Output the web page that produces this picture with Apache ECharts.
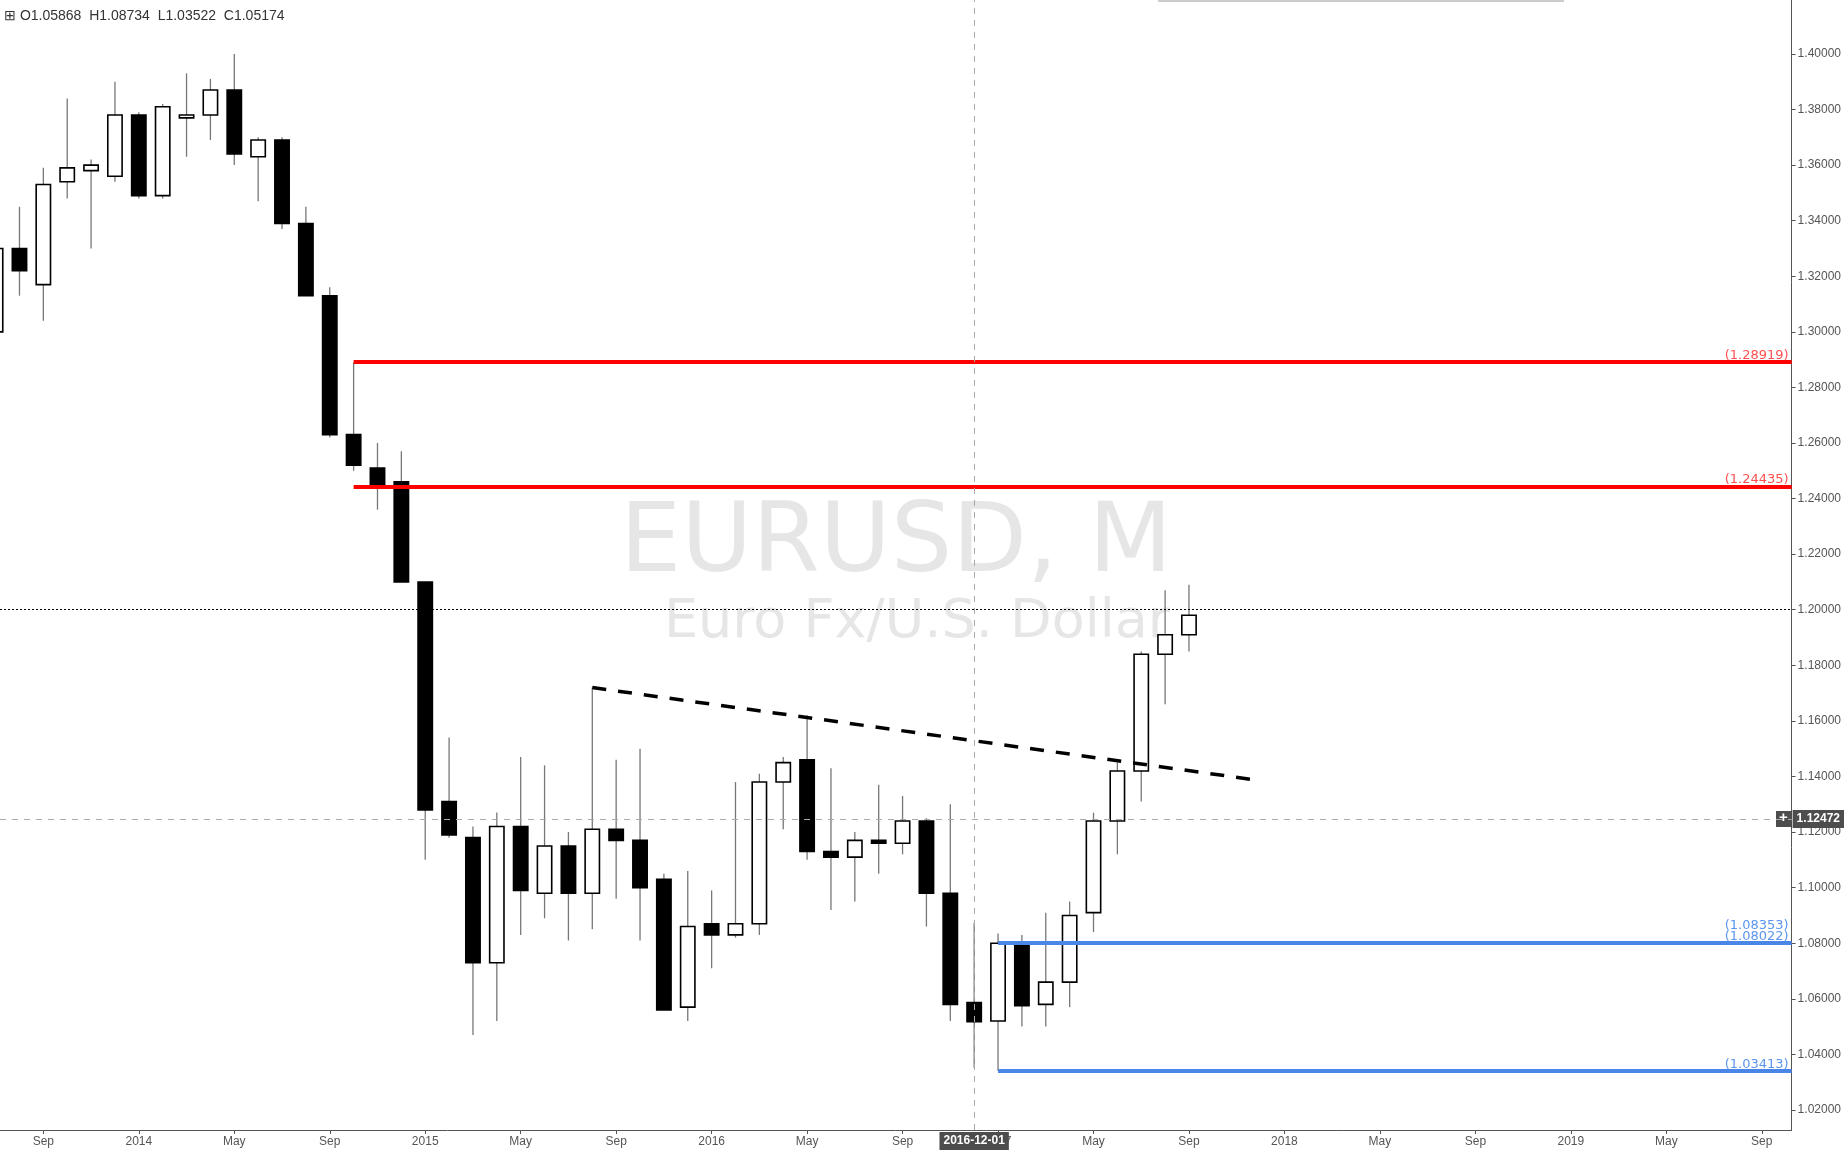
<!DOCTYPE html>
<html><head><meta charset="utf-8">
<script src="https://cdn.jsdelivr.net/npm/echarts@6/dist/echarts.min.js"></script>
<style>html,body{margin:0;padding:0;background:#fff}#c{width:1844px;height:1150px}</style>
</head><body><div id="c"></div>
<script>
const months = ['Jul 2013','Aug 2013','Sep 2013','Oct 2013','Nov 2013','Dec 2013','Jan 2014','Feb 2014','Mar 2014','Apr 2014','May 2014','Jun 2014','Jul 2014','Aug 2014','Sep 2014','Oct 2014','Nov 2014','Dec 2014','Jan 2015','Feb 2015','Mar 2015','Apr 2015','May 2015','Jun 2015','Jul 2015','Aug 2015','Sep 2015','Oct 2015','Nov 2015','Dec 2015','Jan 2016','Feb 2016','Mar 2016','Apr 2016','May 2016','Jun 2016','Jul 2016','Aug 2016','Sep 2016','Oct 2016','Nov 2016','Dec 2016','Jan 2017','Feb 2017','Mar 2017','Apr 2017','May 2017','Jun 2017','Jul 2017','Aug 2017','Sep 2017'];
const opens  = [1.300,1.330,1.317,1.354,1.358,1.356,1.378,1.349,1.377,1.378,1.387,1.363,1.369,1.339,1.313,1.263,1.251,1.246,1.210,1.131,1.118,1.073,1.122,1.098,1.115,1.098,1.121,1.117,1.103,1.057,1.087,1.083,1.087,1.138,1.146,1.113,1.111,1.117,1.116,1.124,1.098,1.05868,1.052,1.080,1.058,1.066,1.091,1.124,1.142,1.184,1.191];
const highs  = [1.335,1.345,1.359,1.384,1.362,1.390,1.379,1.382,1.393,1.391,1.400,1.370,1.370,1.345,1.316,1.289,1.260,1.257,1.210,1.154,1.122,1.127,1.147,1.144,1.120,1.172,1.146,1.150,1.105,1.106,1.099,1.138,1.141,1.147,1.162,1.143,1.120,1.137,1.133,1.125,1.130,1.08734,1.08353,1.083,1.091,1.095,1.127,1.145,1.185,1.207,1.209];
const lows   = [1.298,1.313,1.304,1.348,1.330,1.354,1.348,1.348,1.363,1.369,1.360,1.347,1.337,1.313,1.262,1.250,1.236,1.210,1.110,1.118,1.047,1.052,1.083,1.089,1.081,1.085,1.096,1.081,1.056,1.052,1.071,1.082,1.083,1.121,1.110,1.092,1.095,1.105,1.112,1.086,1.052,1.03522,1.03413,1.050,1.050,1.057,1.084,1.112,1.131,1.166,1.185];
const closes = [1.330,1.322,1.353,1.359,1.360,1.378,1.349,1.381,1.378,1.387,1.364,1.369,1.339,1.313,1.263,1.252,1.245,1.210,1.128,1.119,1.073,1.122,1.099,1.115,1.098,1.121,1.117,1.100,1.056,1.086,1.083,1.087,1.138,1.145,1.113,1.111,1.117,1.116,1.124,1.098,1.058,1.05174,1.080,1.0575,1.066,1.090,1.124,1.142,1.184,1.191,1.198];
const yTicks = [1.02,1.04,1.06,1.08,1.10,1.12,1.14,1.16,1.18,1.20,1.22,1.24,1.26,1.28,1.30,1.32,1.34,1.36,1.38,1.40];
const monthNames = ['Jan','Feb','Mar','Apr','May','Jun','Jul','Aug','Sep','Oct','Nov','Dec'];
const xTickIdx = [2,6,10,14,18,22,26,30,34,38,42,46,50,54,58,62,66,70,74];
const redLevels = [{v:1.28919,from:15,label:'(1.28919)'},{v:1.24435,from:15,label:'(1.24435)'}];
const blueLevels = [{v:1.08022,from:42,label:'(1.08353)\n(1.08022)'},{v:1.03413,from:42,label:'(1.03413)'}];
const trend = [[25,1.172],[53,1.1385]];
const lastPrice = 1.198;
const crossX = 41, crossY = 1.12472;
const X_MIN = 0.184, X_MAX = 75.25;

function idxLabel(i){ const m=(6+i)%12, y=2013+Math.floor((6+i)/12); return m===0? String(y) : monthNames[m]; }
const candles = months.map((m,i)=>[i,opens[i],closes[i],lows[i],highs[i]]);

const chart = echarts.init(document.getElementById('c'));
const ml = (arr,color,lblColor)=>arr.map(l=>[{coord:[l.from,l.v],lineStyle:{color,width:4,type:'solid'},label:{show:true,formatter:l.label,position:'insideEndTop',color:lblColor,fontSize:13,lineHeight:11,fontFamily:'DejaVu Sans',distance:[3,1]}},{coord:[X_MAX,l.v]}]);
chart.setOption({
  animation:false,
  grid:{left:0,right:50,top:0,bottom:20},
  axisPointer:{triggerOn:'none'},
  xAxis:{type:'value',min:X_MIN,max:X_MAX,splitLine:{show:false},
    axisLine:{lineStyle:{color:'#555'}},
    axisTick:{customValues:xTickIdx,length:4,lineStyle:{color:'#555'}},
    axisLabel:{customValues:xTickIdx,formatter:v=>idxLabel(Math.round(v)),color:'#555',fontSize:12,fontFamily:'Liberation Sans',margin:6},
    axisPointer:{show:true,status:'show',value:crossX,type:'line',lineStyle:{color:'#aaa',type:[6,6],width:1},
      label:{show:true,formatter:()=>'2016-12-01',backgroundColor:'#4d4d4d',color:'#fff',fontWeight:'bold',fontSize:12,padding:[3,4],borderRadius:0}}},
  yAxis:{type:'value',position:'right',min:1.0128,max:1.4194,splitLine:{show:false},
    axisLine:{show:true,lineStyle:{color:'#555'}},
    axisTick:{show:true,customValues:yTicks,length:4,lineStyle:{color:'#555'}},
    axisLabel:{customValues:yTicks,formatter:v=>v.toFixed(5),color:'#555',fontSize:12,fontFamily:'Liberation Sans',margin:6},
    axisPointer:{show:true,status:'show',value:crossY,type:'line',lineStyle:{color:'#aaa',type:[6,6],width:1},
      label:{show:true,formatter:()=>'1.12472',backgroundColor:'#4d4d4d',color:'#fff',fontWeight:'bold',fontSize:12,padding:[3,4],borderRadius:0}}},
  graphic:[
    {type:'text',left:620,top:497,style:{text:'EURUSD, M',fontSize:97,fontFamily:'DejaVu Sans',fill:'#e6e6e6'},z:-1},
    {type:'text',left:664,top:596,style:{text:'Euro Fx/U.S. Dollar',fontSize:54,fontFamily:'DejaVu Sans',fill:'#e6e6e6'},z:-1},
    {type:'text',left:4,top:9,style:{text:'⊞ O1.05868  H1.08734  L1.03522  C1.05174',fontSize:14,fontFamily:'Liberation Sans',fill:'#333'}},
    {type:'rect',left:1158,top:0,shape:{width:406,height:2},style:{fill:'#ccc'}},
    {type:'rect',left:1776,top:811,shape:{width:16,height:16},style:{fill:'#4d4d4d'},z:50},
    {type:'text',left:1779,top:810,style:{text:'+',fontSize:15,fill:'#fff',fontWeight:'bold'},z:51}
  ],
  series:[
    {type:'custom',data:candles,z:3,
     renderItem:(params,api)=>{
       const x=api.value(0),o=api.value(1),c=api.value(2),l=api.value(3),h=api.value(4);
       const pH=api.coord([x,h]),pL=api.coord([x,l]),pO=api.coord([x,o]),pC=api.coord([x,c]);
       const w=api.size([1,0])[0]*0.6;
       const up=c>=o; const top=Math.min(pO[1],pC[1]),bot=Math.max(pO[1],pC[1]);
       return {type:'group',children:[
         {type:'line',shape:{x1:pH[0],y1:pH[1],x2:pL[0],y2:pL[1]},style:{stroke:'#777',lineWidth:1.3}},
         {type:'rect',shape:{x:pO[0]-w/2,y:top,width:w,height:Math.max(bot-top,2)},style:{fill:up?'#fff':'#000',stroke:'#000',lineWidth:1.6}}
       ]};
     }},
    {type:'line',data:[],markLine:{symbol:'none',silent:true,data:[
      ...ml(redLevels,'#ff0000','#ff5050'),
      ...ml(blueLevels,'#4a86e8','#5b95ee'),
      [{coord:trend[0],lineStyle:{color:'#000',width:3.5,type:[14,12]},label:{show:false}},{coord:trend[1]}],
      {yAxis:lastPrice,lineStyle:{color:'#000',width:1,type:[2,2]},label:{show:false}}
    ]}}
  ]
});
</script></body></html>
